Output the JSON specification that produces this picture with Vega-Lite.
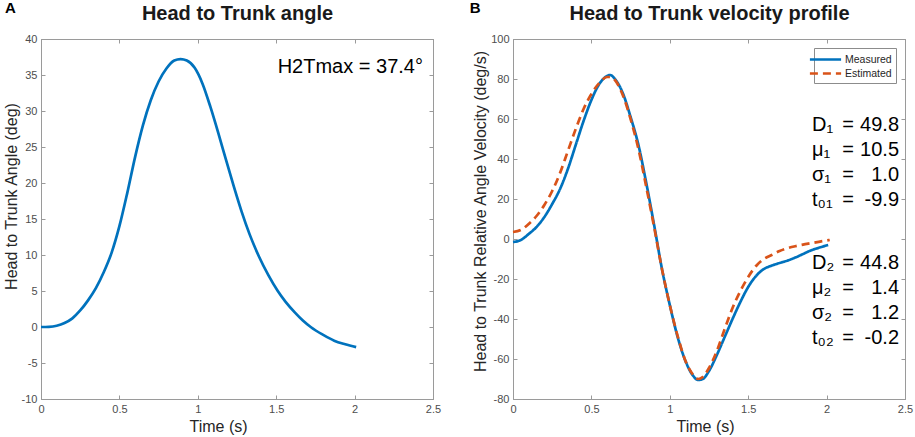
{
  "$schema": "https://vega.github.io/schema/vega-lite/v6.json",
  "autosize": {"type": "pad"},
  "padding": {"left": 2, "top": 0, "right": 0, "bottom": 0},
  "spacing": 27,
  "resolve": {
    "scale": {"color": "independent", "strokeDash": "independent"},
    "legend": {"color": "independent", "strokeDash": "independent"}
  },
  "datasets": {
    "angle": [
      {"t": 0, "angle": 0}, {"t": 0.05, "angle": 0.03}, {"t": 0.1, "angle": 0.18}, {"t": 0.15, "angle": 0.55},
      {"t": 0.2, "angle": 1.2}, {"t": 0.25, "angle": 2.3}, {"t": 0.3, "angle": 3.7}, {"t": 0.35, "angle": 5.4},
      {"t": 0.4, "angle": 7.6}, {"t": 0.45, "angle": 10.3}, {"t": 0.5, "angle": 14.0}, {"t": 0.55, "angle": 18.6},
      {"t": 0.6, "angle": 23.6}, {"t": 0.65, "angle": 28.0}, {"t": 0.7, "angle": 31.5}, {"t": 0.75, "angle": 34.1},
      {"t": 0.8, "angle": 35.9}, {"t": 0.85, "angle": 37.0}, {"t": 0.89, "angle": 37.2}, {"t": 0.93, "angle": 37.0},
      {"t": 0.98, "angle": 36.0}, {"t": 1.03, "angle": 33.8}, {"t": 1.08, "angle": 30.6}, {"t": 1.13, "angle": 27.0},
      {"t": 1.18, "angle": 23.2}, {"t": 1.23, "angle": 19.5}, {"t": 1.28, "angle": 16.0}, {"t": 1.33, "angle": 12.9},
      {"t": 1.39, "angle": 9.8}, {"t": 1.45, "angle": 7.2}, {"t": 1.51, "angle": 5.0}, {"t": 1.56, "angle": 3.5},
      {"t": 1.62, "angle": 2.0}, {"t": 1.67, "angle": 0.9}, {"t": 1.72, "angle": 0.0}, {"t": 1.8, "angle": -1.1},
      {"t": 1.87, "angle": -1.9}, {"t": 1.94, "angle": -2.4}, {"t": 2.01, "angle": -2.8}
    ],
    "velocity": [
      {"t": 0, "v": -1.5, "series": "Measured"}, {"t": 0.05, "v": -0.5, "series": "Measured"},
      {"t": 0.1, "v": 2.5, "series": "Measured"}, {"t": 0.15, "v": 6, "series": "Measured"},
      {"t": 0.2, "v": 11, "series": "Measured"}, {"t": 0.25, "v": 17.5, "series": "Measured"},
      {"t": 0.3, "v": 25, "series": "Measured"}, {"t": 0.35, "v": 35, "series": "Measured"},
      {"t": 0.4, "v": 47, "series": "Measured"}, {"t": 0.45, "v": 59, "series": "Measured"},
      {"t": 0.5, "v": 69.5, "series": "Measured"}, {"t": 0.55, "v": 77.5, "series": "Measured"},
      {"t": 0.6, "v": 81.5, "series": "Measured"}, {"t": 0.62, "v": 82, "series": "Measured"},
      {"t": 0.65, "v": 80, "series": "Measured"}, {"t": 0.7, "v": 73, "series": "Measured"},
      {"t": 0.75, "v": 61, "series": "Measured"}, {"t": 0.8, "v": 47, "series": "Measured"},
      {"t": 0.85, "v": 28, "series": "Measured"}, {"t": 0.9, "v": 7, "series": "Measured"},
      {"t": 0.95, "v": -15, "series": "Measured"}, {"t": 1.0, "v": -33, "series": "Measured"},
      {"t": 1.05, "v": -49, "series": "Measured"}, {"t": 1.1, "v": -61, "series": "Measured"},
      {"t": 1.15, "v": -68.5, "series": "Measured"}, {"t": 1.18, "v": -70.5, "series": "Measured"},
      {"t": 1.21, "v": -70, "series": "Measured"}, {"t": 1.25, "v": -66, "series": "Measured"},
      {"t": 1.3, "v": -58, "series": "Measured"}, {"t": 1.35, "v": -49, "series": "Measured"},
      {"t": 1.4, "v": -40, "series": "Measured"}, {"t": 1.45, "v": -31.5, "series": "Measured"},
      {"t": 1.5, "v": -24, "series": "Measured"}, {"t": 1.55, "v": -18.5, "series": "Measured"},
      {"t": 1.6, "v": -15, "series": "Measured"}, {"t": 1.65, "v": -13.3, "series": "Measured"},
      {"t": 1.7, "v": -12, "series": "Measured"}, {"t": 1.75, "v": -10.8, "series": "Measured"},
      {"t": 1.8, "v": -9.3, "series": "Measured"}, {"t": 1.85, "v": -7.5, "series": "Measured"},
      {"t": 1.9, "v": -5.7, "series": "Measured"}, {"t": 1.95, "v": -4.4, "series": "Measured"},
      {"t": 2.01, "v": -3, "series": "Measured"},
      {"t": 0, "v": 3.5, "series": "Estimated"}, {"t": 0.05, "v": 4.5, "series": "Estimated"},
      {"t": 0.1, "v": 7.5, "series": "Estimated"}, {"t": 0.15, "v": 11.5, "series": "Estimated"},
      {"t": 0.2, "v": 17, "series": "Estimated"}, {"t": 0.25, "v": 24, "series": "Estimated"},
      {"t": 0.3, "v": 33, "series": "Estimated"}, {"t": 0.35, "v": 44, "series": "Estimated"},
      {"t": 0.4, "v": 55, "series": "Estimated"}, {"t": 0.45, "v": 65, "series": "Estimated"},
      {"t": 0.5, "v": 72.5, "series": "Estimated"}, {"t": 0.55, "v": 78, "series": "Estimated"},
      {"t": 0.6, "v": 81, "series": "Estimated"}, {"t": 0.62, "v": 81, "series": "Estimated"},
      {"t": 0.65, "v": 79.5, "series": "Estimated"}, {"t": 0.7, "v": 72, "series": "Estimated"},
      {"t": 0.75, "v": 60, "series": "Estimated"}, {"t": 0.8, "v": 45, "series": "Estimated"},
      {"t": 0.85, "v": 26, "series": "Estimated"}, {"t": 0.9, "v": 6, "series": "Estimated"},
      {"t": 0.95, "v": -15, "series": "Estimated"}, {"t": 1.0, "v": -33, "series": "Estimated"},
      {"t": 1.05, "v": -48.5, "series": "Estimated"}, {"t": 1.1, "v": -61, "series": "Estimated"},
      {"t": 1.15, "v": -68, "series": "Estimated"}, {"t": 1.18, "v": -70, "series": "Estimated"},
      {"t": 1.21, "v": -69, "series": "Estimated"}, {"t": 1.25, "v": -64.5, "series": "Estimated"},
      {"t": 1.3, "v": -56, "series": "Estimated"}, {"t": 1.35, "v": -45, "series": "Estimated"},
      {"t": 1.4, "v": -34.5, "series": "Estimated"}, {"t": 1.45, "v": -26, "series": "Estimated"},
      {"t": 1.5, "v": -19, "series": "Estimated"}, {"t": 1.55, "v": -13.5, "series": "Estimated"},
      {"t": 1.6, "v": -10, "series": "Estimated"}, {"t": 1.65, "v": -8, "series": "Estimated"},
      {"t": 1.7, "v": -6, "series": "Estimated"}, {"t": 1.75, "v": -4.6, "series": "Estimated"},
      {"t": 1.8, "v": -3.6, "series": "Estimated"}, {"t": 1.85, "v": -2.8, "series": "Estimated"},
      {"t": 1.9, "v": -2.1, "series": "Estimated"}, {"t": 1.95, "v": -1.4, "series": "Estimated"},
      {"t": 2.02, "v": -0.5, "series": "Estimated"}
    ],
    "one": [{}]
  },
  "hconcat": [
    {
      "title": {"text": "A", "anchor": "start", "frame": "bounds", "fontSize": 15, "fontWeight": "bold", "dx": 2, "dy": 16},
      "width": 392,
      "height": 360,
      "resolve": {"axis": {"x": "independent", "y": "independent"}},
      "layer": [
        {
          "data": {"name": "angle"},
          "mark": {"type": "line", "color": "#0072BD", "strokeWidth": 2.7, "interpolate": "monotone"},
          "encoding": {
            "x": {"field": "t", "type": "quantitative", "scale": {"domain": [0, 2.5], "nice": false},
              "axis": {"values": [0, 0.5, 1, 1.5, 2, 2.5], "labelExpr": "'' + datum.value", "title": "Time (s)", "titleX": 177}},
            "y": {"field": "angle", "type": "quantitative", "scale": {"domain": [-10, 40], "nice": false, "zero": false},
              "axis": {"values": [-10, -5, 0, 5, 10, 15, 20, 25, 30, 35, 40], "labelExpr": "'' + datum.value", "title": "Head to Trunk Angle (deg)", "titleY": 157, "titlePadding": 2}}
          }
        },
        {
          "data": {"name": "one"},
          "mark": {"type": "text", "align": "right", "baseline": "alphabetic", "fontSize": 20, "color": "#000000", "text": "H2Tmax = 37.4°"},
          "encoding": {
            "x": {"datum": 2.436, "type": "quantitative",
              "axis": {"orient": "top", "values": [0, 0.5, 1, 1.5, 2, 2.5], "labels": false, "title": "Head to Trunk angle", "titleFontSize": 20, "titleFontWeight": "bold", "titleColor": "#1a1a1a", "titlePadding": 15}},
            "y": {"datum": 35.3, "type": "quantitative",
              "axis": {"orient": "right", "values": [-10, -5, 0, 5, 10, 15, 20, 25, 30, 35, 40], "labels": false, "title": null}}
          }
        }
      ]
    },
    {
      "title": {"text": "B", "anchor": "start", "frame": "bounds", "fontSize": 15, "fontWeight": "bold", "dx": -3, "dy": 16},
      "width": 392,
      "height": 360,
      "resolve": {"axis": {"x": "independent", "y": "independent"}},
      "layer": [
        {
          "data": {"name": "velocity"},
          "transform": [{"filter": "datum.series == 'Measured'"}],
          "mark": {"type": "line", "strokeWidth": 2.7, "interpolate": "monotone"},
          "encoding": {
            "x": {"field": "t", "type": "quantitative", "scale": {"domain": [0, 2.5], "nice": false},
              "axis": {"values": [0, 0.5, 1, 1.5, 2, 2.5], "labelExpr": "'' + datum.value", "title": "Time (s)", "titleX": 192}},
            "y": {"field": "v", "type": "quantitative", "scale": {"domain": [-80, 100], "nice": false, "zero": false},
              "axis": {"values": [-80, -60, -40, -20, 0, 20, 40, 60, 80, 100], "labelExpr": "'' + datum.value", "title": "Head to Trunk Relative Angle Velocity (deg/s)", "titleY": 172, "titlePadding": 2}},
            "color": {"field": "series", "type": "nominal", "scale": {"domain": ["Measured", "Estimated"], "range": ["#0072BD", "#D95319"]}, "legend": {"title": null}},
            "strokeDash": {"field": "series", "type": "nominal", "scale": {"domain": ["Measured", "Estimated"], "range": [[1, 0], [8, 5]]}, "legend": {"title": null}}
          }
        },
        {
          "data": {"name": "velocity"},
          "transform": [{"filter": "datum.series == 'Estimated'"}],
          "mark": {"type": "line", "strokeWidth": 2.7, "interpolate": "monotone"},
          "encoding": {
            "x": {"field": "t", "type": "quantitative",
              "axis": {"orient": "top", "values": [0, 0.5, 1, 1.5, 2, 2.5], "labels": false, "title": "Head to Trunk velocity profile", "titleFontSize": 20, "titleFontWeight": "bold", "titleColor": "#1a1a1a", "titlePadding": 15}},
            "y": {"field": "v", "type": "quantitative",
              "axis": {"orient": "right", "values": [-80, -60, -40, -20, 0, 20, 40, 60, 80, 100], "labels": false, "title": null}},
            "color": {"field": "series", "type": "nominal", "legend": {"title": null}},
            "strokeDash": {"field": "series", "type": "nominal", "legend": {"title": null}}
          }
        },
        {
          "data": {"name": "one"},
          "mark": {"type": "text", "align": "left", "baseline": "alphabetic", "fontSize": 20, "lineHeight": 25, "color": "#000000", "text": ["D₁", "μ₁", "σ₁", "t₀₁"]},
          "encoding": {"x": {"datum": 1.907, "type": "quantitative", "axis": null}, "y": {"datum": 54.1, "type": "quantitative", "axis": null}}
        },
        {
          "data": {"name": "one"},
          "mark": {"type": "text", "align": "left", "baseline": "alphabetic", "fontSize": 20, "lineHeight": 25, "color": "#000000", "text": ["=", "=", "=", "="]},
          "encoding": {"x": {"datum": 2.1, "type": "quantitative", "axis": null}, "y": {"datum": 54.1, "type": "quantitative", "axis": null}}
        },
        {
          "data": {"name": "one"},
          "mark": {"type": "text", "align": "right", "baseline": "alphabetic", "fontSize": 20, "lineHeight": 25, "color": "#000000", "text": ["49.8", "10.5", "1.0", "-9.9"]},
          "encoding": {"x": {"datum": 2.462, "type": "quantitative", "axis": null}, "y": {"datum": 54.1, "type": "quantitative", "axis": null}}
        },
        {
          "data": {"name": "one"},
          "mark": {"type": "text", "align": "left", "baseline": "alphabetic", "fontSize": 20, "lineHeight": 25, "color": "#000000", "text": ["D₂", "μ₂", "σ₂", "t₀₂"]},
          "encoding": {"x": {"datum": 1.907, "type": "quantitative", "axis": null}, "y": {"datum": -15.1, "type": "quantitative", "axis": null}}
        },
        {
          "data": {"name": "one"},
          "mark": {"type": "text", "align": "left", "baseline": "alphabetic", "fontSize": 20, "lineHeight": 25, "color": "#000000", "text": ["=", "=", "=", "="]},
          "encoding": {"x": {"datum": 2.1, "type": "quantitative", "axis": null}, "y": {"datum": -15.1, "type": "quantitative", "axis": null}}
        },
        {
          "data": {"name": "one"},
          "mark": {"type": "text", "align": "right", "baseline": "alphabetic", "fontSize": 20, "lineHeight": 25, "color": "#000000", "text": ["44.8", "1.4", "1.2", "-0.2"]},
          "encoding": {"x": {"datum": 2.462, "type": "quantitative", "axis": null}, "y": {"datum": -15.1, "type": "quantitative", "axis": null}}
        }
      ]
    }
  ],
  "config": {
    "font": "Liberation Sans",
    "view": {"stroke": "#9a9a9a", "strokeWidth": 1},
    "axis": {
      "grid": false,
      "domainColor": "#9a9a9a",
      "tickColor": "#9a9a9a",
      "tickSize": -4,
      "labelPadding": 8,
      "labelFont": "Liberation Sans",
      "labelFontSize": 11,
      "labelColor": "#4d4d4d",
      "labelFlush": false,
      "titleFont": "Liberation Sans",
      "titleFontSize": 16,
      "titleFontWeight": "normal",
      "titleColor": "#262626",
      "titlePadding": 4
    },
    "legend": {
      "orient": "top-right",
      "offset": 9,
      "fillColor": "#ffffff",
      "strokeColor": "#8c8c8c",
      "padding": 4,
      "symbolType": "M-2.6,0L2.6,0",
      "symbolSize": 144,
      "symbolStrokeWidth": 2.5,
      "labelFont": "Liberation Sans",
      "labelFontSize": 10.5,
      "labelColor": "#262626",
      "labelOffset": 12,
      "rowPadding": 1
    },
    "title": {"font": "Liberation Sans", "color": "#000000"}
  }
}
